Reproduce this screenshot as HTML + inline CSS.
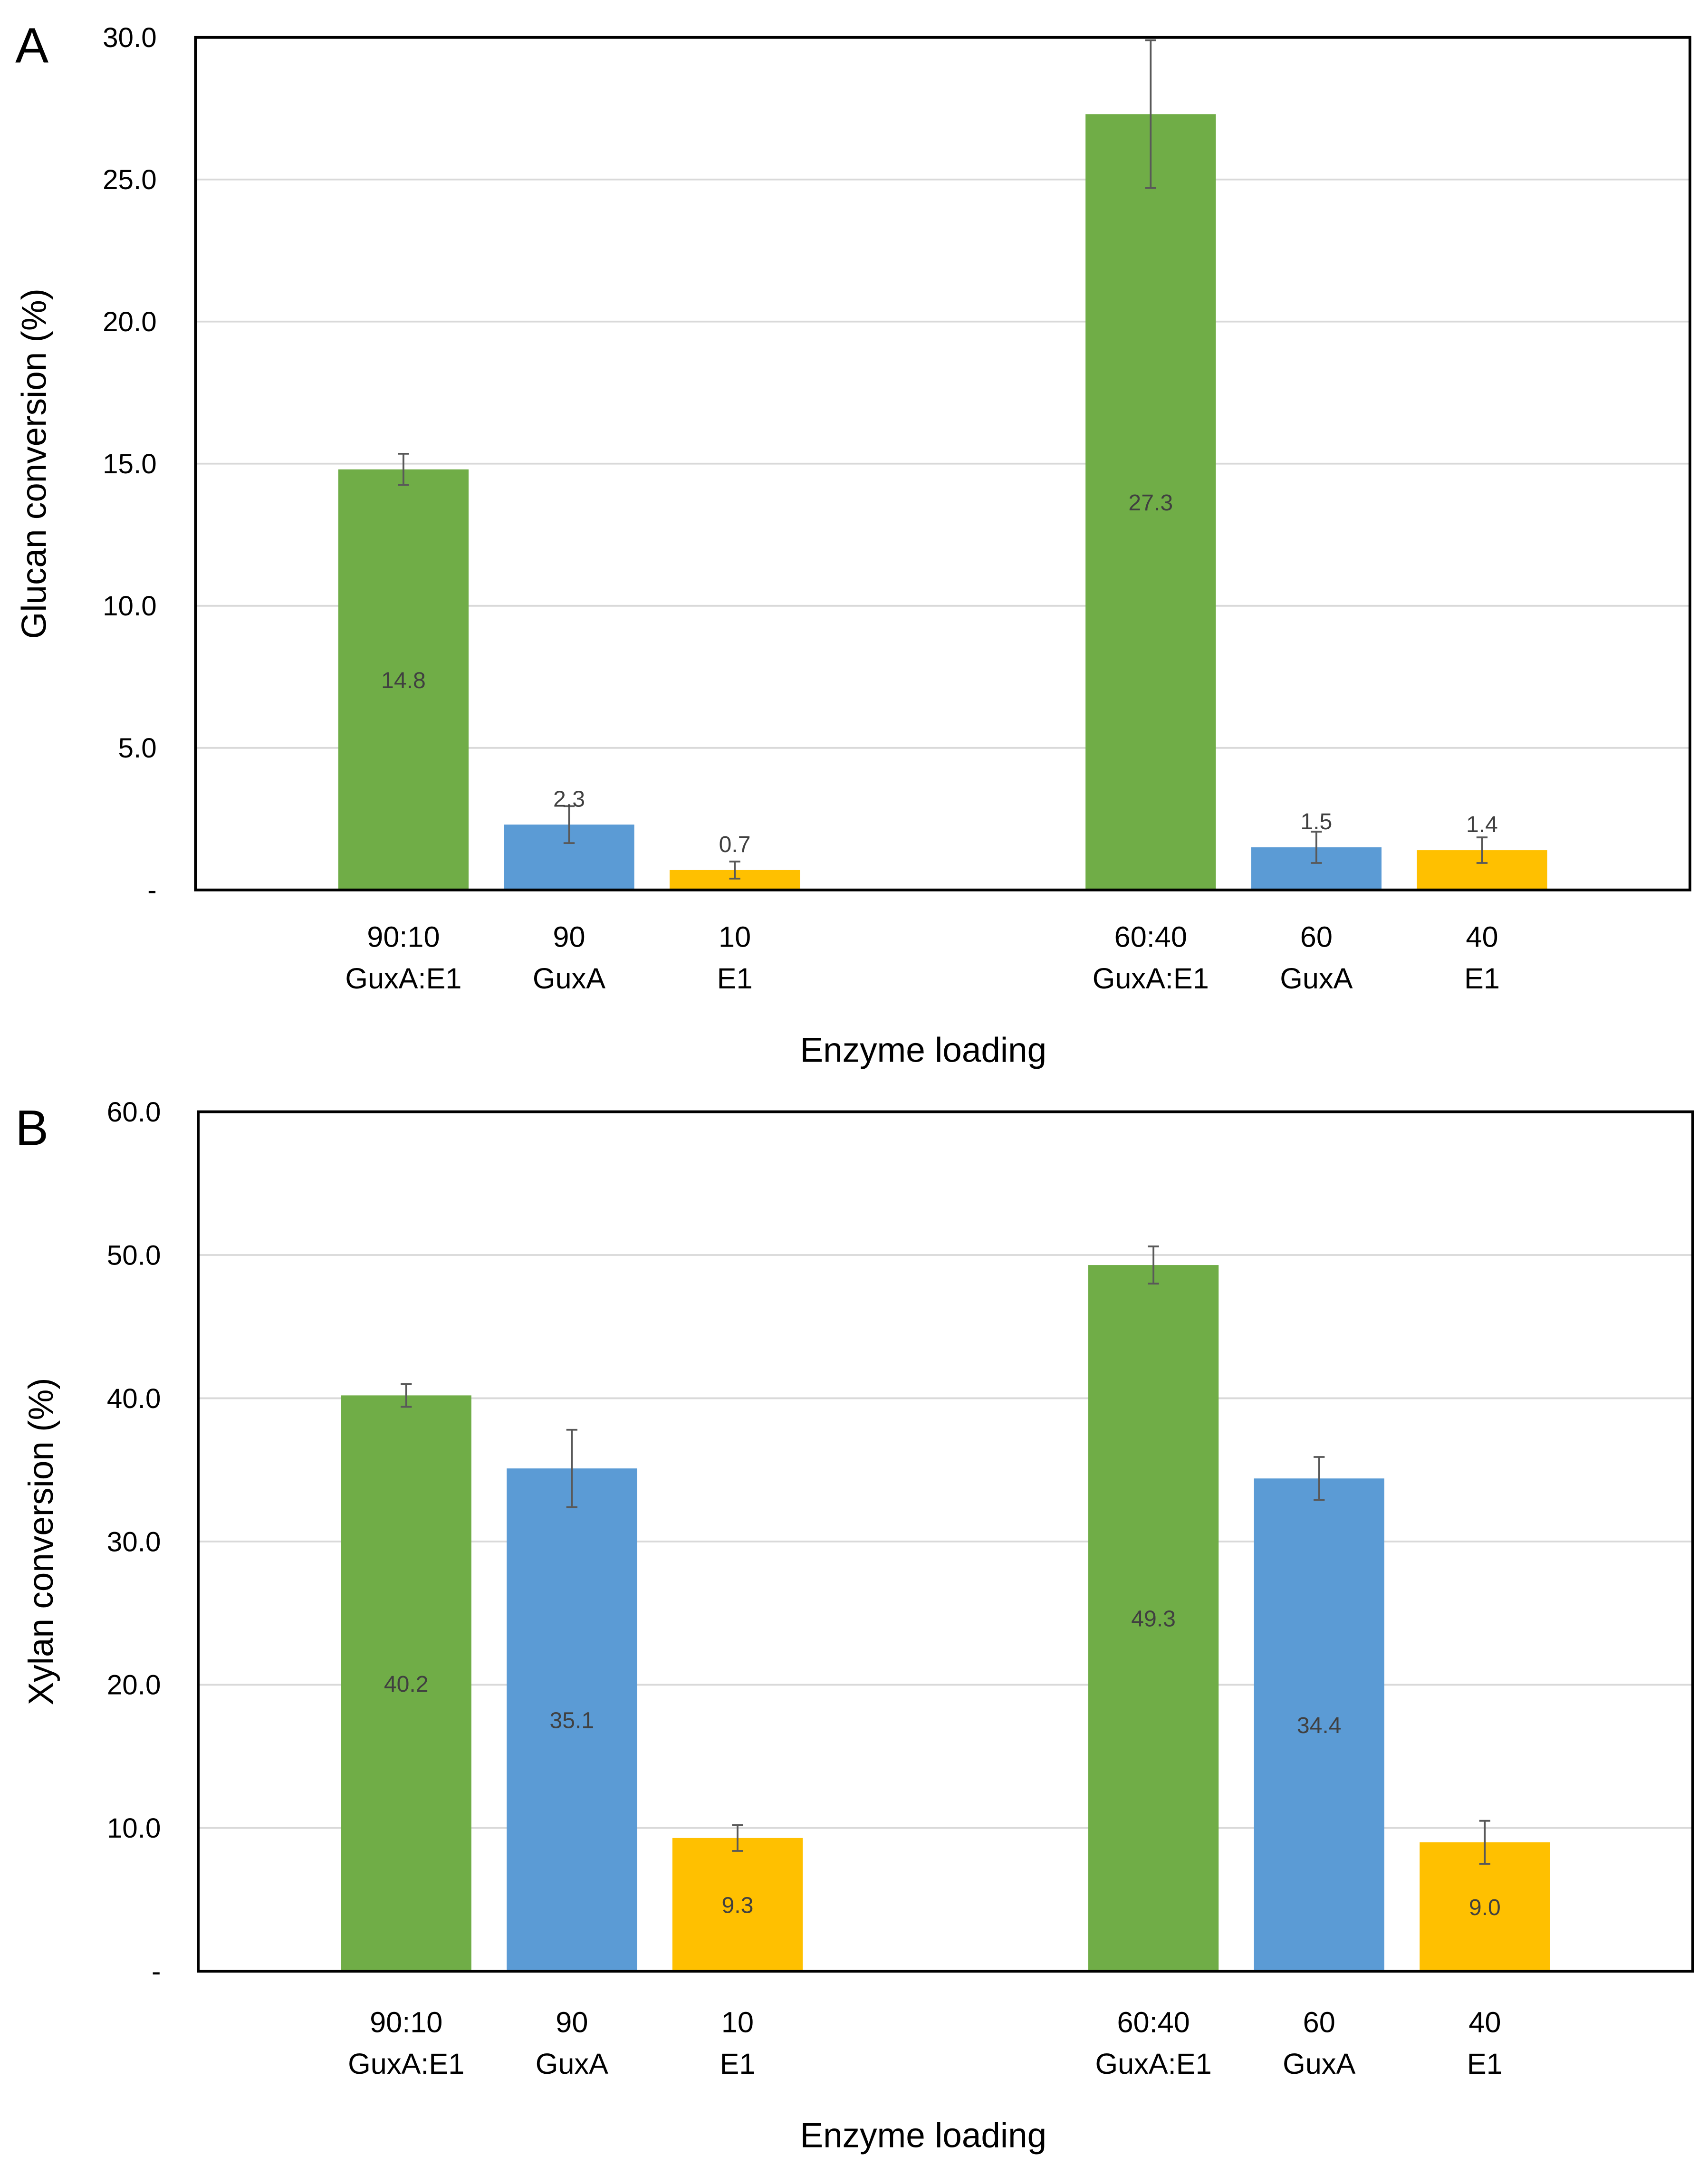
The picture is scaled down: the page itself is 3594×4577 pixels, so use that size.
<!DOCTYPE html>
<html><head><meta charset="utf-8"><style>
html,body{margin:0;padding:0;background:#fff;}
svg{display:block;}
text{font-family:"Liberation Sans",sans-serif;}
</style></head><body>
<svg id="fig" width="3594" height="4577" viewBox="0 0 1232 1569" preserveAspectRatio="none" xmlns="http://www.w3.org/2000/svg"></svg>
<script>
const categoriesTop = ["90:10","90","10","60:40","60","40"];
const categoriesBottom = ["GuxA:E1","GuxA","E1","GuxA:E1","GuxA","E1"];
const glucanValues = [14.8, 2.3, 0.7, 27.3, 1.5, 1.4];
const glucanErrors = [0.55, 0.65, 0.3, 2.6, 0.55, 0.45];
const glucanTicks = ["-","5.0","10.0","15.0","20.0","25.0","30.0"];
const xylanValues = [40.2, 35.1, 9.3, 49.3, 34.4, 9.0];
const xylanErrors = [0.8, 2.7, 0.9, 1.3, 1.5, 1.5];
const xylanTicks = ["-","10.0","20.0","30.0","40.0","50.0","60.0"];

const NS = "http://www.w3.org/2000/svg";
const svg = document.getElementById("fig");
const colors = ["#70ad47","#5b9bd5","#ffc000","#70ad47","#5b9bd5","#ffc000"];
function mk(tag, attrs, parent){
  const e = document.createElementNS(NS, tag);
  for (const k in attrs) e.setAttribute(k, attrs[k]);
  (parent||svg).appendChild(e);
  return e;
}
function panel(cfg){
  const g = mk("g", {});
  
  
  const y = v => cfg.bottom - (v / cfg.max) * (cfg.bottom - cfg.top);
  const centersBase = [0, 119.5, 239, 539, 658.5, 778];
  const x = i => cfg.firstCenter + centersBase[i];
  const step = cfg.max / (cfg.ticks.length - 1);
  cfg.ticks.forEach((t, i) => {
    const v = i * step, yy = y(v);
    if (i > 0 && i < cfg.ticks.length - 1) {
      const gl = mk("line", {x1:cfg.left, x2:cfg.right, y1:yy, y2:yy, stroke:"#d9d9d9", "stroke-width":1.3}, g);
      
      
    }
    const tl = mk("text", {x:cfg.tickX, y:yy + 7, "text-anchor":"end", "font-size":20, fill:"#000"}, g);
    tl.textContent = t;
    
    
  });
  cfg.values.forEach((v, i) => {
    const cx = x(i), w = 94;
    const r = mk("rect", {x:cx - w/2, y:y(v), width:w, height:cfg.bottom - y(v), fill:colors[i]}, g);
    
    
    const e = cfg.errors[i];
    const eg = mk("g", {stroke:"#595959", "stroke-width":1.3}, g);
    
    
    mk("line", {x1:cx, x2:cx, y1:y(v+e), y2:y(v-e)}, eg);
    mk("line", {x1:cx-4, x2:cx+4, y1:y(v+e), y2:y(v+e)}, eg);
    mk("line", {x1:cx-4, x2:cx+4, y1:y(v-e), y2:y(v-e)}, eg);
    const inside = (cfg.bottom - y(v)) > 70;
    const ly = inside ? (y(v) + cfg.bottom) / 2 + 6 : y(v) - 13;
    const dl = mk("text", {x:cx, y:ly, "text-anchor":"middle", "font-size":16.5, fill:"#404040"}, g);
    dl.textContent = v.toFixed(1);
    
    
    const c1 = mk("text", {x:cx, y:cfg.catY, "text-anchor":"middle", "font-size":21, fill:"#000"}, g);
    c1.textContent = categoriesTop[i];
    
    
    const c2 = mk("text", {x:cx, y:cfg.catY + 30, "text-anchor":"middle", "font-size":21, fill:"#000"}, g);
    c2.textContent = categoriesBottom[i];
    
    
  });
  const box = mk("rect", {x:cfg.left, y:cfg.top, width:cfg.right-cfg.left, height:cfg.bottom-cfg.top, fill:"none", stroke:"#000", "stroke-width":2}, g);
  
  
  const xt = mk("text", {x:666, y:cfg.catY + 83, "text-anchor":"middle", "font-size":25, fill:"#000"}, g);
  xt.textContent = "Enzyme loading";
  
  
  const cy = (cfg.top + cfg.bottom) / 2;
  const yt = mk("text", {x:cfg.ytX, y:cy, "text-anchor":"middle", "font-size":25, fill:"#000", transform:"rotate(-90 " + cfg.ytX + " " + cy + ")"}, g);
  yt.textContent = cfg.ytitle;
  
  
  const pl = mk("text", {x:cfg.letterX, y:cfg.letterY, "font-size":36, fill:"#000"}, g);
  pl.textContent = cfg.letter;
  
  
}
panel({name:"panel-a-glucan", left:141, right:1219, top:27, bottom:642, max:30, ticks:glucanTicks,
  values:glucanValues, errors:glucanErrors, firstCenter:291, tickX:113, catY:683, ytX:33,
  ytitle:"Glucan conversion (%)", letter:"A", letterX:11, letterY:45});
panel({name:"panel-b-xylan", left:143, right:1221, top:802, bottom:1422, max:60, ticks:xylanTicks,
  values:xylanValues, errors:xylanErrors, firstCenter:293, tickX:116, catY:1466, ytX:38,
  ytitle:"Xylan conversion (%)", letter:"B", letterX:11, letterY:826});
</script>
</body></html>
